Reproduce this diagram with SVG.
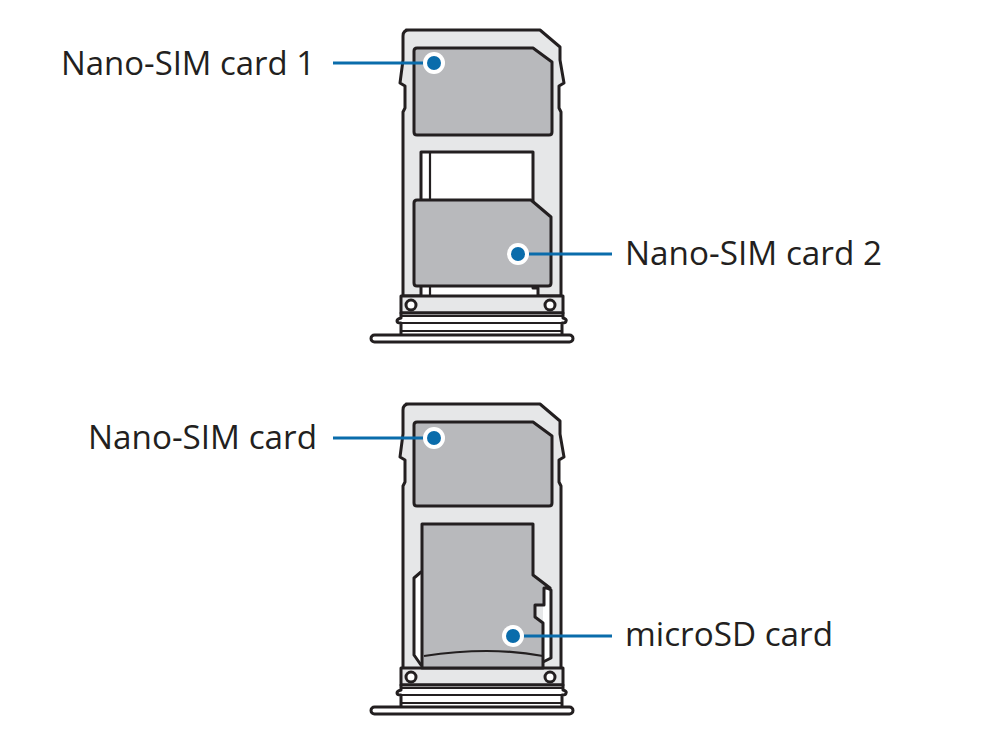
<svg xmlns="http://www.w3.org/2000/svg" width="984" height="738" viewBox="0 0 984 738">
<style>
.o{stroke:#231f20;stroke-width:3;stroke-linejoin:round;stroke-linecap:round}
.thin{stroke:#231f20;stroke-width:2.2;fill:none}
.tray{fill:#e6e7e8}
.card{fill:#b8b9bc}
.w{fill:#fff}
.lbl{font-family:"Open Sans","Liberation Sans",sans-serif;font-size:32px;fill:#231f20}
.lead{stroke:#0a6cab;stroke-width:3;fill:none}
.halo{fill:#fff}
.dot{fill:#0a6cab}
</style>
<defs>
<g id="tray-body">
<path class="o tray" d="M406 30H540L560 47V60L564 83L559 86V108L561 112V296H403V112L405 108V86L400 83L403 60V36Q403 30 409 30Z"/>
</g>
<g id="tray-foot">
<path class="o tray" d="M401 296H563V313H401Z"/>
<circle class="o w" cx="411" cy="305" r="5"/>
<circle class="o w" cx="550" cy="305" r="5"/>
<path class="o w" d="M401 313H563V318Q567 319 566 321Q566 323 562 323V336H401V323Q397 323 397 321Q397 319 401 318Z"/>
<path class="thin" d="M401 316H563M401 323H563M401 331H563"/>
<rect class="o w" x="371" y="335" width="202" height="7" rx="3.5"/>
</g>
</defs>
<rect width="984" height="738" fill="#fff"/>
<g id="tray-1">
<use href="#tray-body"/>
<path class="o w" d="M421 296V152H533V288H538V297H421Z"/>
<path class="thin" d="M430 152V297"/>
<use href="#tray-foot"/>
</g>
<g id="nano-sim-1">
<path class="o card" d="M417 48H533L552 62V132Q552 135 549 135H417Q414 135 414 132V51Q414 48 417 48Z"/>
</g>
<g id="nano-sim-2">
<path class="o card" d="M417 200H531L551 217V283Q551 286 548 286H417Q414 286 414 283V203Q414 200 417 200Z"/>
</g>
<g id="tray-2" transform="translate(0 374)">
<use href="#tray-body"/>
<use href="#tray-foot" transform="translate(0 -2)"/>
</g>
<g id="nano-sim-3">
<path class="o card" d="M417 422H533L552 436V503Q552 506 549 506H417Q414 506 414 503V425Q414 422 417 422Z"/>
</g>
<g id="microsd">
<path class="o w" d="M421 572L414 578V655L421 665"/>
<path class="o w" d="M543 586L551 590V658L543 662"/>
<path class="o card" d="M422 668V524H533V575L550 588H544V605H535V617L543 623V668Z"/>
<path class="thin" stroke-width="1.6" d="M424 656Q490 646 543 656"/>
</g>
<g id="connectors">
<path class="lead" d="M333 63H434"/>
<path class="lead" d="M518 254H612"/>
<path class="lead" d="M333 438H434"/>
<path class="lead" d="M513 636H612"/>
<g>
<circle class="halo" cx="434" cy="63" r="11"/><circle class="dot" cx="434" cy="63" r="7"/>
<circle class="halo" cx="518" cy="254" r="11"/><circle class="dot" cx="518" cy="254" r="7"/>
<circle class="halo" cx="434" cy="438" r="11"/><circle class="dot" cx="434" cy="438" r="7"/>
<circle class="halo" cx="513" cy="636" r="11"/><circle class="dot" cx="513" cy="636" r="7"/>
</g>
</g>
<g id="label-1"><text class="lbl" x="61" y="75" textLength="254" lengthAdjust="spacingAndGlyphs">Nano-SIM card 1</text></g>
<g id="label-2"><text class="lbl" x="625" y="265" textLength="257" lengthAdjust="spacingAndGlyphs">Nano-SIM card 2</text></g>
<g id="label-3"><text class="lbl" x="88" y="449" textLength="229" lengthAdjust="spacingAndGlyphs">Nano-SIM card</text></g>
<g id="label-4"><text class="lbl" x="625" y="646" textLength="208" lengthAdjust="spacingAndGlyphs">microSD card</text></g>
</svg>
